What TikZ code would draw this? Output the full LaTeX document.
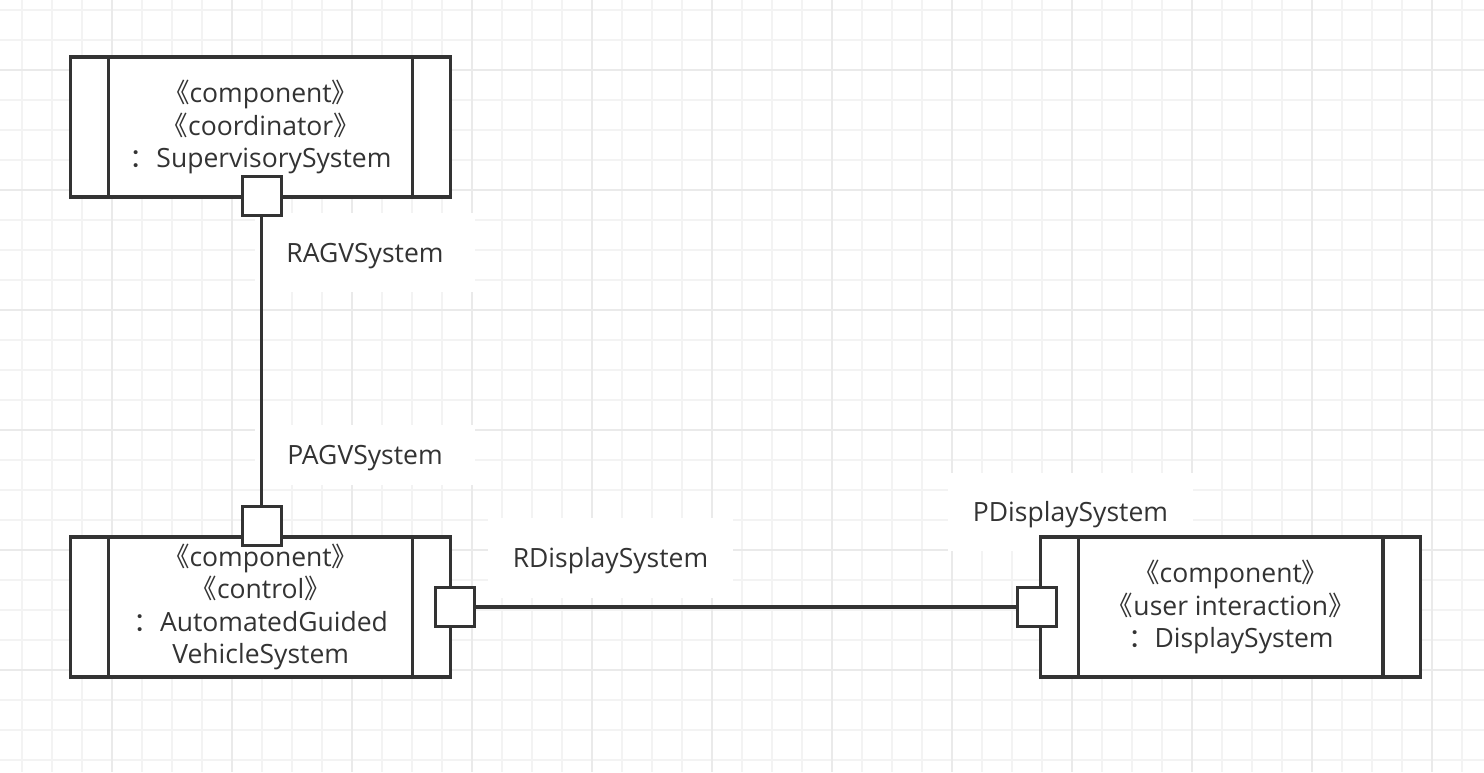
\documentclass[tikz,border=0pt]{standalone}
\usepackage{fontspec}
\setmainfont{Open Sans}
\newfontfamily\cjkfont{Noto Sans CJK SC}
\newcommand\stereo[1]{{\cjkfont 《}#1{\cjkfont 》}}
\newcommand\instof{{\cjkfont ：}}
\definecolor{ink}{HTML}{333333}
\definecolor{gridminor}{HTML}{F3F3F3}
\definecolor{gridmajor}{HTML}{EAEAEA}
\tikzset{
  minorline/.style={draw=gridminor, line width=2pt},
  majorline/.style={draw=gridmajor, line width=2pt},
  comp/.style={draw=ink, line width=3.2pt, fill=white, minimum width=380pt, minimum height=140pt, inner sep=0pt},
  bar/.style={draw=ink, line width=3.2pt},
  port/.style={draw=ink, line width=3.2pt, fill=white, minimum size=39pt, inner sep=0pt},
  conn/.style={draw=ink, line width=3.2pt},
  txt/.style={text=ink, font=\fontsize{26.5}{32.5}\selectfont, align=center},
  lbl/.style={fill=white, inner sep=0pt, text height=19pt, text depth=0pt},
}
\begin{document}
\begin{tikzpicture}[x=1pt, y=-1pt]
\useasboundingbox (0,0) rectangle (1484,772);
\fill[white] (0,0) rectangle (1484,772);
\begin{scope}
  \clip (0,0) rectangle (1484,772);
  \foreach \i in {0,...,49} \draw[minorline] (21.7+30*\i,0) -- ++(0,772);
  \foreach \j in {0,...,25} \draw[minorline] (0,10+30*\j) -- ++(1484,0);
  \foreach \i in {0,...,11} \draw[majorline] (111.7+120*\i,0) -- ++(0,772);
  \foreach \j in {0,...,6} \draw[majorline] (0,70+120*\j) -- ++(1484,0);
\end{scope}

% labels with white backgrounds
\node[lbl, txt, minimum width=220pt, minimum height=79pt] (lRAGV) at (365,252.5) {RAGVSystem};
\node[lbl, txt, minimum width=220pt, minimum height=60pt] (lPAGV) at (365,455) {PAGVSystem};
\node[lbl, txt, minimum width=245pt, minimum height=80pt] (lRDS) at (610.5,558) {RDisplaySystem};
\node[lbl, txt, minimum width=245pt, minimum height=78pt] (lPDS) at (1070.5,511.5) {PDisplaySystem};

% components
\node[comp, txt] (ss) at (260.7,127) {\stereo{component}\\\stereo{coordinator}\\\instof SupervisorySystem};
\node[comp, txt] (agv) at (260.7,607) {\stereo{component}\\\stereo{control}\\\instof AutomatedGuided\\VehicleSystem};
\node[comp, txt] (ds) at (1230.8,607) {\stereo{component}\\\stereo{user interaction}\\\instof DisplaySystem};
\foreach \n in {ss,agv,ds}{
  \draw[bar] ([xshift=39.5pt]\n.north west) -- ([xshift=39.5pt]\n.south west);
  \draw[bar] ([xshift=-39.5pt]\n.north east) -- ([xshift=-39.5pt]\n.south east);
}

% ports
\node[port] (ssP) at (261.7,196) {};
\node[port] (agvT) at (261.7,525.8) {};
\node[port] (agvR) at (455,607) {};
\node[port] (dsL) at (1037,607) {};

% connectors
\draw[conn] (ssP.south) -- (agvT.north);
\draw[conn] (agvR.east) -- (dsL.west);
\end{tikzpicture}
\end{document}
